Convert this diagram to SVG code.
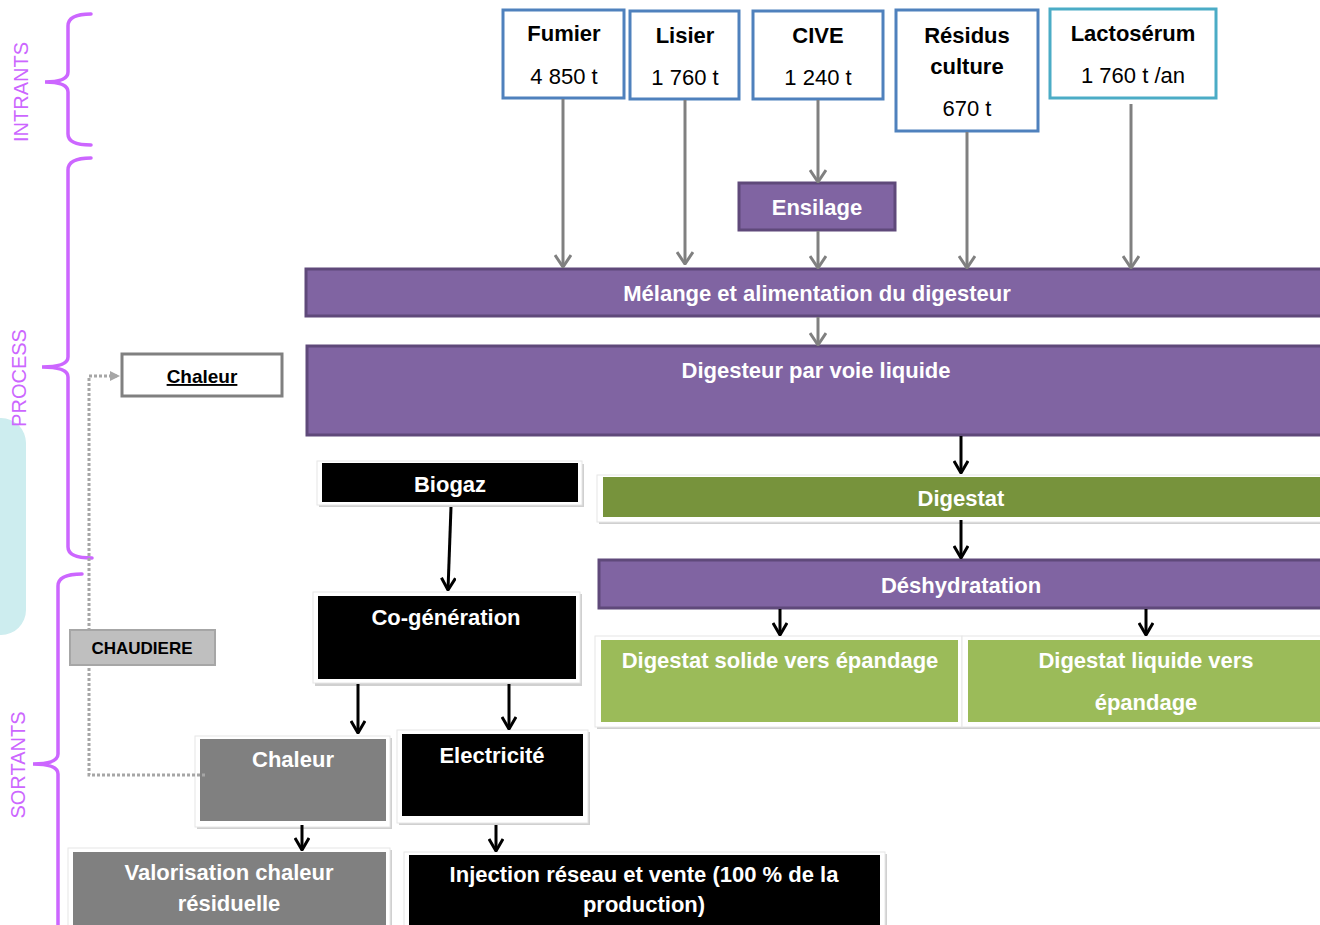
<svg xmlns="http://www.w3.org/2000/svg" width="1320" height="925" viewBox="0 0 1320 925">
<defs>
<style>
.t{font-family:"Liberation Sans","Open Sans",Arial,sans-serif;text-anchor:middle;font-size:22px}
.b{font-weight:bold}
.w{fill:#ffffff}
.k{fill:#000000}
.in{fill:#ffffff;stroke:#4F81BD;stroke-width:3}
.pu{fill:#8064A2;stroke:#5F497A;stroke-width:3}
.outer{fill:#ffffff;stroke:#E6E6E6;stroke-width:1}
.shadow{fill:#D0D0D0}
.brace{fill:none;stroke:#CC66FF;stroke-width:3.5;stroke-linecap:round}
.lbl{font-family:"Liberation Sans",Arial,sans-serif;fill:#CC66FF;font-size:20px;text-anchor:middle}
.ga{stroke:#808080;stroke-width:3;fill:none;marker-end:url(#mg)}
.ka{stroke:#000000;stroke-width:3;fill:none;marker-end:url(#mk)}
</style>
<marker id="mg" viewBox="0 0 14 18" refX="13" refY="9" markerWidth="14" markerHeight="18" markerUnits="userSpaceOnUse" orient="auto"><path d="M1,1 L13,9 L1,17" fill="none" stroke="#808080" stroke-width="3"/></marker>
<marker id="mk" viewBox="0 0 14 16" refX="13" refY="8" markerWidth="14" markerHeight="16" markerUnits="userSpaceOnUse" orient="auto"><path d="M1,1 L13,8 L1,15" fill="none" stroke="#000000" stroke-width="3"/></marker>
<marker id="md" viewBox="0 0 10 10" refX="9" refY="5" markerWidth="10" markerHeight="10" markerUnits="userSpaceOnUse" orient="auto"><path d="M0,0 L10,5 L0,10 Z" fill="#A6A6A6"/></marker>
</defs>

<rect x="-30" y="418" width="56" height="217" rx="25" fill="#CDEDEF"/>

<g id="braces">
<path class="brace" d="M91,14 Q68,14 68,26 L68,72 Q68,82 45,82 Q68,82 68,92 L68,134 Q68,145 91,145"/>
<path class="brace" d="M91,158 Q68,158 68,170 L68,357 Q68,367 42,367 Q68,367 68,377 L68,547 Q68,558 92,558"/>
<path class="brace" d="M82,574 Q58,574 58,586 L58,754 Q58,764 33,764 Q58,764 58,774 L58,940"/>
<text class="lbl" transform="translate(28,92) rotate(-90)">INTRANTS</text>
<text class="lbl" transform="translate(26,378) rotate(-90)">PROCESS</text>
<text class="lbl" transform="translate(25,765) rotate(-90)">SORTANTS</text>
</g>

<g id="fumier">
<rect class="in" x="503" y="10" width="121" height="88"/>
<text class="t b" x="564" y="41">Fumier</text>
<text class="t" x="564" y="84">4 850 t</text>
</g>
<g id="lisier">
<rect class="in" x="630" y="11" width="109" height="88"/>
<text class="t b" x="685" y="43">Lisier</text>
<text class="t" x="685" y="85">1 760 t</text>
</g>
<g id="cive">
<rect class="in" x="753" y="11" width="130" height="88"/>
<text class="t b" x="818" y="43">CIVE</text>
<text class="t" x="818" y="85">1 240 t</text>
</g>
<g id="residus">
<rect class="in" x="896" y="10" width="142" height="121"/>
<text class="t b" x="967" y="43">Résidus</text>
<text class="t b" x="967" y="74">culture</text>
<text class="t" x="967" y="116">670 t</text>
</g>
<g id="lactoserum">
<rect x="1050" y="9" width="166" height="89" fill="#ffffff" stroke="#4BACC6" stroke-width="3"/>
<text class="t b" x="1133" y="41">Lactosérum</text>
<text class="t" x="1133" y="83">1 760 t /an</text>
</g>

<g id="ensilage">
<rect class="pu" x="739" y="183" width="156" height="47"/>
<text class="t b w" x="817" y="215">Ensilage</text>
</g>
<g id="melange">
<rect class="pu" x="306" y="269" width="1020" height="47"/>
<text class="t b w" x="817" y="301">Mélange et alimentation du digesteur</text>
</g>
<g id="digesteur">
<rect class="pu" x="307" y="346" width="1020" height="89"/>
<text class="t b w" x="816" y="378">Digesteur par voie liquide</text>
</g>

<g id="chaleur-top">
<rect x="122" y="354" width="160" height="42" fill="#ffffff" stroke="#808080" stroke-width="3"/>
<text class="t b k" x="202" y="383" style="font-size:19px" text-decoration="underline">Chaleur</text>
</g>

<g id="biogaz">
<rect class="shadow" x="319" y="464" width="265" height="43"/>
<rect class="outer" x="317" y="461" width="265" height="44"/>
<rect x="322" y="463" width="256" height="39" fill="#000000"/>
<text class="t b w" x="450" y="492">Biogaz</text>
</g>

<g id="cogeneration">
<rect class="shadow" x="315" y="594" width="267" height="92"/>
<rect class="outer" x="313" y="592" width="267" height="91"/>
<rect x="318" y="596" width="258" height="83" fill="#000000"/>
<text class="t b w" x="446" y="625">Co-génération</text>
</g>

<g id="digestat">
<rect class="shadow" x="599" y="478" width="725" height="46"/>
<rect class="outer" x="597" y="475" width="725" height="47"/>
<rect x="603" y="477" width="720" height="40" fill="#77933C"/>
<text class="t b w" x="961" y="506">Digestat</text>
</g>

<g id="deshydratation">
<rect class="pu" x="599" y="560" width="727" height="48"/>
<text class="t b w" x="961" y="593">Déshydratation</text>
</g>

<g id="digestat-solide">
<rect class="shadow" x="597" y="638" width="367" height="91"/>
<rect class="outer" x="595" y="636" width="367" height="91"/>
<rect x="601" y="640" width="357" height="82" fill="#9BBB59"/>
<text class="t b w" x="780" y="668">Digestat solide vers épandage</text>
</g>

<g id="digestat-liquide">
<rect class="shadow" x="964" y="638" width="360" height="91"/>
<rect class="outer" x="962" y="636" width="362" height="91"/>
<rect x="968" y="640" width="356" height="82" fill="#9BBB59"/>
<text class="t b w" x="1146" y="668">Digestat liquide vers</text>
<text class="t b w" x="1146" y="710">épandage</text>
</g>

<g id="chaleur-out">
<rect class="shadow" x="197" y="738" width="195" height="91"/>
<rect class="outer" x="195" y="736" width="195" height="91"/>
<rect x="200" y="739" width="186" height="82" fill="#808080"/>
<text class="t b w" x="293" y="767">Chaleur</text>
</g>

<g id="electricite">
<rect class="shadow" x="399" y="732" width="191" height="93"/>
<rect class="outer" x="397" y="730" width="191" height="93"/>
<rect x="402" y="734" width="181" height="82" fill="#000000"/>
<text class="t b w" x="492" y="763">Electricité</text>
</g>

<g id="valorisation">
<rect class="shadow" x="70" y="850" width="322" height="80"/>
<rect class="outer" x="68" y="848" width="322" height="80"/>
<rect x="73" y="852" width="313" height="75" fill="#808080"/>
<text class="t b w" x="229" y="880">Valorisation chaleur</text>
<text class="t b w" x="229" y="911">résiduelle</text>
</g>

<g id="injection">
<rect class="shadow" x="406" y="854" width="481" height="76"/>
<rect class="outer" x="404" y="852" width="481" height="76"/>
<rect x="409" y="855" width="471" height="72" fill="#000000"/>
<text class="t b w" x="644" y="882">Injection réseau et vente (100 % de la</text>
<text class="t b w" x="644" y="912">production)</text>
</g>

<g id="connectors">
<path class="ga" d="M563,99 L563,267"/>
<path class="ga" d="M685,100 L685,264"/>
<path class="ga" d="M818,100 L818,182"/>
<path class="ga" d="M818,231 L818,268"/>
<path class="ga" d="M967,132 L967,268"/>
<path class="ga" d="M1131,104 L1131,268"/>
<path class="ga" d="M818,317 L818,345"/>
<path class="ka" d="M961,436 L961,473"/>
<path class="ka" d="M451,507 L448,590"/>
<path class="ka" d="M961,520 L961,558"/>
<path class="ka" d="M780,609 L780,635"/>
<path class="ka" d="M1146,609 L1146,635"/>
<path class="ka" d="M358,684 L358,733"/>
<path class="ka" d="M509,684 L509,729"/>
<path class="ka" d="M302,825 L302,850"/>
<path class="ka" d="M496,825 L496,851"/>
<path d="M205,775 L89,775 L89,376 L119,376" fill="none" stroke="#A6A6A6" stroke-width="3" stroke-dasharray="3,2" marker-end="url(#md)"/>
</g>

<g id="chaudiere">
<rect x="70" y="630" width="145" height="35" fill="#BFBFBF" stroke="#A6A6A6" stroke-width="2"/>
<text class="t b k" x="142" y="654" style="font-size:17px">CHAUDIERE</text>
</g>
</svg>
